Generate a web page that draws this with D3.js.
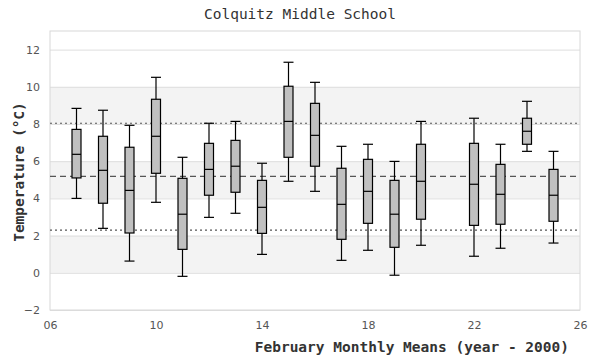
<!DOCTYPE html>
<html><head><meta charset="utf-8">
<script src="https://cdn.jsdelivr.net/npm/d3@7"></script>
<style>body{margin:0;background:#fff}svg{display:block}</style>
</head><body>
<svg id="chart" width="600" height="360"></svg>
<script>
const years = [7,8,9,10,11,12,13,14,15,16,17,18,19,20,22,23,24,25];
const whiskerLow  = [4.0,2.39,0.63,3.79,-0.19,2.98,3.2,0.99,4.92,4.38,0.67,1.21,-0.13,1.48,0.89,1.32,6.53,1.6];
const boxLow      = [5.1,3.74,2.14,5.35,1.26,4.17,4.33,2.12,6.21,5.73,1.8,2.66,1.37,2.88,2.55,2.61,6.91,2.77];
const medians     = [6.37,5.51,4.43,7.34,3.15,5.56,5.73,3.52,8.14,7.39,3.68,4.38,3.15,4.92,4.76,4.22,7.61,4.17];
const boxHigh     = [7.71,7.34,6.75,9.33,5.08,6.96,7.12,4.97,10.03,9.11,5.62,6.10,4.97,6.91,6.96,5.83,8.31,5.56];
const whiskerHigh = [8.84,8.74,7.93,10.51,6.21,8.04,8.14,5.89,11.32,10.24,6.8,6.91,5.99,8.14,8.31,6.91,9.22,6.53];
const xTicks = [6,10,14,18,22,26];
const yTicks = [-2,0,2,4,6,8,10,12];
const bands = [[0,2],[4,6],[8,10]];
const refDotted = [8.04, 2.29];
const refDashed = 5.18;
const title = "Colquitz Middle School";
const xTitle = "February Monthly Means (year - 2000)";
const yTitle = "Temperature (°C)";

const L = 50, R = 580, T = 31, B = 310;
const svg = d3.select("#chart");
const x = d3.scaleLinear().domain([6,26]).range([L,R]);
const y = d3.scaleLinear().domain([-2,13]).range([B,T]);
const mono = "'DejaVu Sans Mono', monospace";

// bands
svg.append("g").selectAll("rect").data(bands).join("rect")
  .attr("x", L).attr("width", R-L)
  .attr("y", d => y(d[1])).attr("height", d => y(d[0]) - y(d[1]))
  .attr("fill", "#f3f3f3");

// gridlines
const yAxis = d3.axisLeft(y).tickValues(yTicks).tickSize(-(R-L)).tickPadding(10).tickFormat(d3.format("d"));
const gy = svg.append("g").attr("transform", `translate(${L},0)`).call(yAxis);
gy.select(".domain").remove();
gy.selectAll(".tick line").attr("stroke", "#dedede");
gy.selectAll(".tick text").attr("fill", "#555").style("font-family", "'DejaVu Sans', sans-serif").style("font-size", "11px");

const xAxis = d3.axisBottom(x).tickValues(xTicks).tickSize(0).tickPadding(11).tickFormat(d => String(d).padStart(2,"0"));
const gx = svg.append("g").attr("transform", `translate(0,${B})`).call(xAxis);
gx.select(".domain").remove();
gx.selectAll(".tick text").attr("fill", "#555").style("font-family", "'DejaVu Sans', sans-serif").style("font-size", "11px");

// border
svg.append("rect").attr("x", L).attr("y", T).attr("width", R-L).attr("height", B-T)
  .attr("fill", "none").attr("stroke", "#d8d8d8").attr("stroke-width", 1);

// reference lines
svg.append("g").selectAll("line").data(refDotted).join("line")
  .attr("x1", L).attr("x2", R).attr("y1", d => y(d)).attr("y2", d => y(d))
  .attr("stroke", "#555").attr("stroke-width", 1.2).attr("stroke-dasharray", "2,3");
svg.append("line").attr("x1", L).attr("x2", R).attr("y1", y(refDashed)).attr("y2", y(refDashed))
  .attr("stroke", "#555").attr("stroke-width", 1.2).attr("stroke-dasharray", "6,4");

// boxes
const data = years.map((yr,i) => ({yr, lo: whiskerLow[i], q1: boxLow[i], med: medians[i], q3: boxHigh[i], hi: whiskerHigh[i]}));
const bw = 9, cw = 10;
const g = svg.append("g").selectAll("g").data(data).join("g");
g.append("line").attr("x1", d => x(d.yr)).attr("x2", d => x(d.yr))
  .attr("y1", d => y(d.hi)).attr("y2", d => y(d.lo)).attr("stroke", "#000").attr("stroke-width", 1.2);
g.append("line").attr("x1", d => x(d.yr)-cw/2).attr("x2", d => x(d.yr)+cw/2)
  .attr("y1", d => y(d.hi)).attr("y2", d => y(d.hi)).attr("stroke", "#000").attr("stroke-width", 1.2);
g.append("line").attr("x1", d => x(d.yr)-cw/2).attr("x2", d => x(d.yr)+cw/2)
  .attr("y1", d => y(d.lo)).attr("y2", d => y(d.lo)).attr("stroke", "#000").attr("stroke-width", 1.2);
g.append("rect").attr("x", d => x(d.yr)-bw/2).attr("width", bw)
  .attr("y", d => y(d.q3)).attr("height", d => y(d.q1)-y(d.q3))
  .attr("fill", "#c0c0c0").attr("stroke", "#000").attr("stroke-width", 1.2);
g.append("line").attr("x1", d => x(d.yr)-bw/2).attr("x2", d => x(d.yr)+bw/2)
  .attr("y1", d => y(d.med)).attr("y2", d => y(d.med)).attr("stroke", "#000").attr("stroke-width", 1.2);

// titles
svg.append("text").attr("x", 300).attr("y", 19).attr("text-anchor", "middle")
  .style("font-family", mono).style("font-size", "14.5px").attr("fill", "#333").text(title);
svg.append("text").attr("x", 569).attr("y", 352).attr("text-anchor", "end")
  .style("font-family", mono).style("font-size", "14.5px").style("font-weight", "bold").attr("fill", "#333").text(xTitle);
svg.append("text").attr("transform", `translate(24,${172}) rotate(-90)`).attr("text-anchor", "middle")
  .style("font-family", mono).style("font-size", "14.5px").style("font-weight", "bold").attr("fill", "#333").text(yTitle);
</script>
</body></html>
